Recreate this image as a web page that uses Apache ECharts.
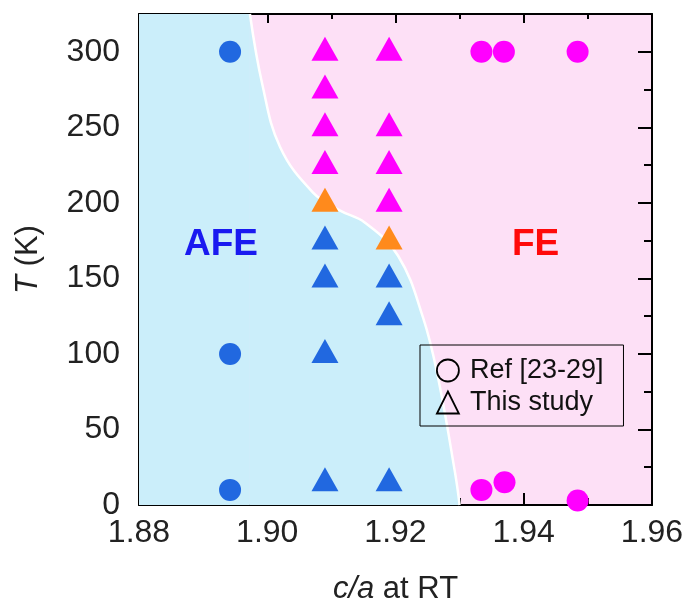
<!DOCTYPE html>
<html>
<head>
  <meta charset="UTF-8">
  <title>c/a - T phase diagram</title>
  <script src="https://cdn.jsdelivr.net/npm/echarts@6/dist/echarts.min.js"></script>
  <style>
    html, body { margin: 0; padding: 0; background: #fff; }
    #main { width: 689px; height: 614px; }
  </style>
</head>
<body>
<div id="main"></div>
<script>
  // phase boundary AFE / FE  [c/a, T]
  var boundary = [
    [1.8973, 325], [1.8992, 279], [1.9020, 237], [1.9071, 207], [1.9113, 195],
    [1.9152, 187], [1.9204, 165], [1.9243, 124], [1.9266, 85], [1.9293, 21],
    [1.9300, 0]
  ];
  // AFE strip left of where the boundary meets the top edge
  var afeTop = [[1.88, 325], [1.8973, 325]];
  // Ref [23-29] (circles)
  var refBlue = [[1.8942, 300], [1.8942, 100], [1.8942, 10]];
  var refMagenta = [[1.9334, 300], [1.9369, 300], [1.9484, 300], [1.9334, 10], [1.9370, 15], [1.9484, 3]];
  // This study (triangles)
  var studyMagenta = [[1.909, 300], [1.909, 275], [1.909, 250], [1.909, 225],
                      [1.919, 300], [1.919, 250], [1.919, 225], [1.919, 200]];
  var studyOrange = [[1.909, 200], [1.919, 175]];
  var studyBlue = [[1.909, 175], [1.909, 150], [1.909, 100], [1.909, 15],
                   [1.919, 150], [1.919, 125], [1.919, 15]];

  var BLUE = '#2168e0', MAG = '#ff00ff', ORANGE = '#ff8a1c', AFE_BG = '#cbeefa';
  var font = '"Liberation Sans", Arial, sans-serif';

  option = {
    backgroundColor: '#fff',
    animation: false,
    grid: {
      left: 139, right: 37, top: 14, bottom: 109,
      show: true, backgroundColor: '#fde0f6', borderWidth: 0
    },
    legend: {
      orient: 'vertical',
      left: 420, top: 345,
      padding: [12, 20, 10, 16],
      itemGap: 5,
      itemWidth: 22, itemHeight: 22,
      borderColor: '#000', borderWidth: 1,
      backgroundColor: 'rgba(255,255,255,0)',
      textStyle: { fontFamily: font, fontSize: 27, color: '#111', padding: [0, 0, 0, 6] },
      data: [
        { name: 'Ref [23-29]', icon: 'circle',
          itemStyle: { color: 'rgba(0,0,0,0)', borderColor: '#000', borderWidth: 1.8 } },
        { name: 'This study', icon: 'triangle',
          itemStyle: { color: 'rgba(0,0,0,0)', borderColor: '#000', borderWidth: 1.8 } }
      ]
    },
    xAxis: [{
      type: 'value', min: 1.88, max: 1.96, interval: 0.02,
      position: 'bottom',
      axisLine: { show: true, onZero: false, lineStyle: { color: '#000', width: 2 } },
      axisTick: { show: true, inside: true, length: 12, lineStyle: { color: '#000', width: 2 } },
      minorTick: { show: true, splitNumber: 2, length: 7, lineStyle: { color: '#000', width: 2 } },
      splitLine: { show: false },
      axisLabel: {
        margin: 12, fontFamily: font, fontSize: 32, color: '#222',
        formatter: function (v) { return v.toFixed(2); }
      },
      name: '{i|c/a} at RT',
      nameLocation: 'middle', nameGap: 69,
      nameTextStyle: {
        fontFamily: font, fontSize: 31, color: '#222',
        rich: { i: { fontFamily: font, fontSize: 31, fontStyle: 'italic', color: '#222' } }
      }
    }, {
      type: 'value', min: 1.88, max: 1.96, interval: 0.02,
      position: 'top',
      axisLine: { show: true, onZero: false, lineStyle: { color: '#000', width: 2 } },
      axisTick: { show: true, inside: true, length: 9, lineStyle: { color: '#000', width: 2 } },
      minorTick: { show: true, splitNumber: 2, length: 5, lineStyle: { color: '#000', width: 2 } },
      splitLine: { show: false },
      axisLabel: { show: false }
    }],
    yAxis: [{
      type: 'value', min: 0, max: 325, interval: 50,
      position: 'left',
      axisLine: { show: true, onZero: false, lineStyle: { color: '#000', width: 2 } },
      axisTick: { show: true, inside: true, length: 14, lineStyle: { color: '#000', width: 2 } },
      minorTick: { show: true, splitNumber: 2, length: 8, lineStyle: { color: '#000', width: 2 } },
      splitLine: { show: false },
      axisLabel: {
        margin: 19, fontFamily: font, fontSize: 32, color: '#222',
        showMaxLabel: false
      },
      name: '{i|T} (K)',
      nameLocation: 'middle', nameGap: 95, nameRotate: 90,
      nameTextStyle: {
        fontFamily: font, fontSize: 31, color: '#222',
        rich: { i: { fontFamily: font, fontSize: 31, fontStyle: 'italic', color: '#222' } }
      }
    }, {
      type: 'value', min: 0, max: 325, interval: 50,
      position: 'right',
      axisLine: { show: true, onZero: false, lineStyle: { color: '#000', width: 2 } },
      axisTick: { show: true, inside: true, length: 14, lineStyle: { color: '#000', width: 2 } },
      minorTick: { show: true, splitNumber: 2, length: 8, lineStyle: { color: '#000', width: 2 } },
      splitLine: { show: false },
      axisLabel: { show: false }
    }],
    graphic: [
      { type: 'text', left: 184, top: 226, z: 10,
        style: { text: 'AFE', font: 'bold 37px ' + font, fill: '#1a1af0' } },
      { type: 'text', left: 512, top: 226, z: 10,
        style: { text: 'FE', font: 'bold 37px ' + font, fill: '#ff0a0a' } }
    ],
    series: [
      { // AFE strip at the left
        type: 'line', name: 'afeTop', silent: true, z: 1,
        data: afeTop, symbol: 'none',
        lineStyle: { width: 0, opacity: 0 },
        areaStyle: { color: AFE_BG, opacity: 1 }
      },
      { // AFE region under the boundary, white boundary line on top
        type: 'line', name: 'boundary', silent: true, z: 2,
        data: boundary, smooth: 0.4,
        symbol: 'none',
        lineStyle: { color: '#fff', width: 2.5 },
        areaStyle: { color: AFE_BG, opacity: 1 }
      },
      { type: 'scatter', name: 'Ref [23-29]', z: 5, symbol: 'circle', symbolSize: 22,
        itemStyle: { color: BLUE, opacity: 1 }, data: refBlue },
      { type: 'scatter', name: 'Ref [23-29]', z: 5, symbol: 'circle', symbolSize: 22,
        itemStyle: { color: MAG, opacity: 1 }, data: refMagenta },
      { type: 'scatter', name: 'This study', z: 5, symbol: 'triangle', symbolSize: [27, 24],
        symbolOffset: [0, -3], itemStyle: { color: MAG, opacity: 1 }, data: studyMagenta },
      { type: 'scatter', name: 'This study', z: 5, symbol: 'triangle', symbolSize: [27, 24],
        symbolOffset: [0, -3], itemStyle: { color: ORANGE, opacity: 1 }, data: studyOrange },
      { type: 'scatter', name: 'This study', z: 5, symbol: 'triangle', symbolSize: [27, 24],
        symbolOffset: [0, -3], itemStyle: { color: BLUE, opacity: 1 }, data: studyBlue }
    ]
  };
  echarts.init(document.getElementById('main')).setOption(option);
</script>
</body>
</html>
